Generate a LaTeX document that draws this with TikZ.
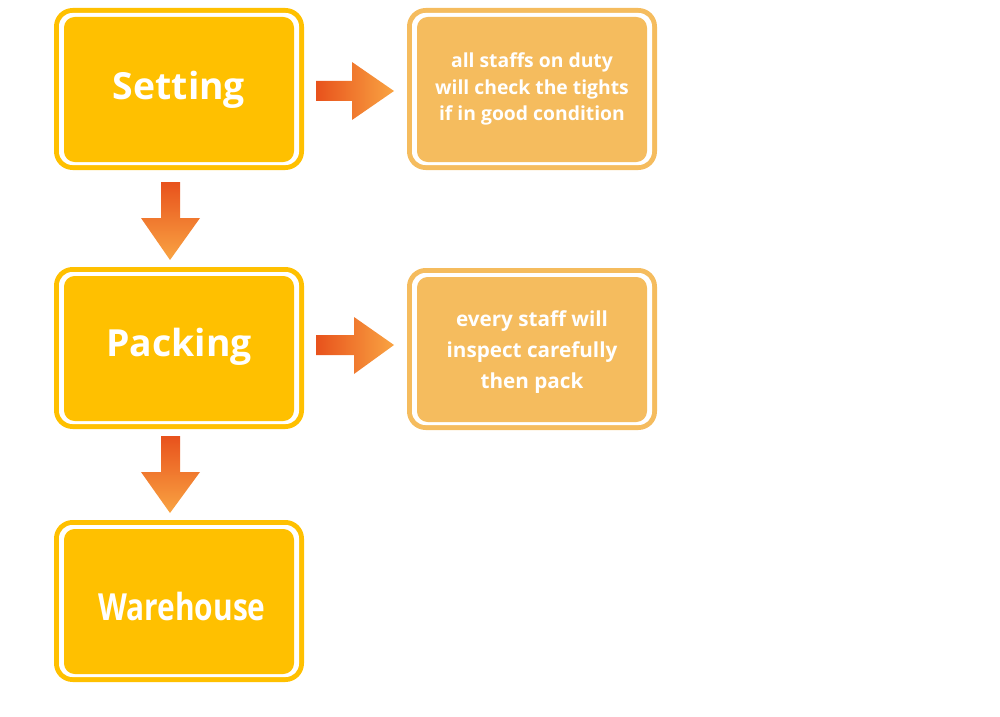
\documentclass[tikz,border=0pt]{standalone}
\usepackage{fontspec}
\setmainfont{Open Sans}
\begin{document}
\begin{tikzpicture}[x=0.75pt,y=-0.75pt,
  lbl/.style={text=white,font=\bfseries,align=center}]
\definecolor{gold}{HTML}{FFC000}
\definecolor{tan}{HTML}{F5BC5E}
\definecolor{ared}{HTML}{E8521C}
\definecolor{aor}{HTML}{F9A443}
\useasboundingbox (0,0) rectangle (1000,717);
\newcommand{\mybox}[5]{%
  \fill[#5,rounded corners=14] (#1,#2) rectangle (#3,#4);
  \fill[white,rounded corners=10] (#1+5,#2+5) rectangle (#3-5,#4-5);
  \fill[#5,rounded corners=8] (#1+10,#2+9) rectangle (#3-10,#4-8);}
\mybox{54}{8}{304}{170}{gold}
\mybox{54}{267}{304}{429}{gold}
\mybox{54}{520}{304}{682}{gold}
\mybox{407}{8}{657}{170}{tan}
\mybox{407}{268}{657}{430}{tan}
\node[lbl,font=\bfseries\fontsize{28}{30}\selectfont] (s) at (179,90) {Setting};
\node[lbl,font=\bfseries\fontsize{28}{30}\selectfont] (p) at (179,347) {Packing};
\node[lbl,font=\bfseries\fontsize{28}{30}\selectfont,xscale=0.8] (w) at (182,606) {Warehouse};
\node[lbl,font=\bfseries\fontsize{14.5}{20}\selectfont] (a) at (532,89) {all staffs on duty\\will check the tights\\if in good condition};
\node[lbl,font=\bfseries\fontsize{15.5}{23}\selectfont] (b) at (532,352) {every staff will\\inspect carefully\\then pack};
\shade[left color=ared,right color=aor] (316,81)--(352,81)--(352,62)--(394,91)--(352,120)--(352,101)--(316,101)--cycle;
\shade[left color=ared,right color=aor] (316,335)--(354,335)--(354,317)--(394,345)--(354,374)--(354,355)--(316,355)--cycle;
\shade[top color=ared,bottom color=aor] (161,182)--(180,182)--(180,218)--(200,218)--(170,260)--(141,218)--(161,218)--cycle;
\shade[top color=ared,bottom color=aor] (161,436)--(180,436)--(180,472)--(200,472)--(170,513)--(141,472)--(161,472)--cycle;
\end{tikzpicture}
\end{document}
